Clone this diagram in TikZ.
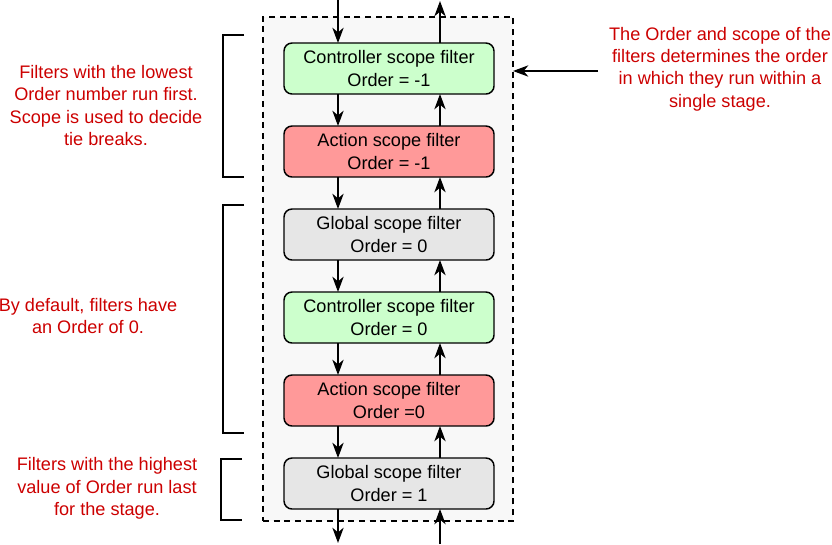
\documentclass[tikz,border=0pt]{standalone}
\usepackage{fontspec}
\setmainfont{Liberation Sans}
\usetikzlibrary{positioning, arrows.meta}

\definecolor{ctrlgreen}{HTML}{CCFFCC}
\definecolor{actionred}{HTML}{FF9999}
\definecolor{globalgray}{HTML}{E6E6E6}
\definecolor{stagebg}{HTML}{F8F8F8}
\definecolor{notered}{HTML}{CC0000}

\begin{document}
\begin{tikzpicture}[
			x = 0.75pt, y = -0.75pt,
			font = \fontsize{13.6}{16.8}\selectfont,
			filterbox/.style = {draw, line width = 1.1pt, rounded corners = 6pt, align = center,
				minimum width = 157.5pt, minimum height = 38.25pt, inner sep = 0pt, outer sep = 0pt},
			flow/.style = {line width = 1.1pt, -{Stealth[length = 11.5pt, width = 8.5pt, inset = 3.5pt]}},
			note/.style = {text = notered, align = center},
			bracket/.style = {line width = 1.1pt},
			node distance = 24pt]
			\useasboundingbox (0,0) rectangle (832,544);

			% the stage
			\node (stage) [draw, dashed, dash pattern = on 4.5pt off 3.5pt, line width = 1.1pt,
				fill = stagebg, minimum width = 187.5pt, minimum height = 378pt, outer sep = 0pt] at (388,269) {};

			% filters, first to last
			\node (ctrlA) [filterbox, fill = ctrlgreen] at (389,68.5) {Controller scope filter\\Order = -1};
			\node (actA) [filterbox, fill = actionred, below = of ctrlA] {Action scope filter\\Order = -1};
			\node (globA) [filterbox, fill = globalgray, below = of actA] {Global scope filter\\Order = 0};
			\node (ctrlB) [filterbox, fill = ctrlgreen, below = of globA] {Controller scope filter\\Order = 0};
			\node (actB) [filterbox, fill = actionred, below = of ctrlB] {Action scope filter\\Order =0};
			\node (globB) [filterbox, fill = globalgray, below = of actB] {Global scope filter\\Order = 1};

			% lanes
			\coordinate (downlane) at (338,0);
			\coordinate (uplane) at (440,0);
			\coordinate (inTop) at (338,0);
			\coordinate (outTop) at (440,1);
			\coordinate (outBottom) at (338,543);
			\coordinate (inBottom) at (440,544);

			\draw[flow] (inTop) -- (ctrlA.north -| downlane);
			\draw[flow] (ctrlA.north -| uplane) -- (outTop);
			\foreach \a/\b in {ctrlA/actA, actA/globA, globA/ctrlB, ctrlB/actB, actB/globB} {
				\draw[flow] (\a.south -| downlane) -- (\b.north -| downlane);
				\draw[flow] (\b.north -| uplane) -- (\a.south -| uplane);
			}
			\draw[flow] (globB.south -| downlane) -- (outBottom);
			\draw[flow] (inBottom) -- (globB.south -| uplane);

			% notes
			\node (noteLow) [note] at (106,105.5) {Filters with the lowest\\Order number run first.\\Scope is used to decide\\tie breaks.};
			\node (noteDefault) [note] at (88,316) {By default, filters have\\an Order of 0.};
			\node (noteHigh) [note] at (107,488.5) {Filters with the highest\\value of Order run last\\for the stage.};
			\node (noteOrder) [note] at (720,69) {The Order and scope of the\\filters determines the order\\in which they run within a\\single stage.};

			\coordinate (noteTail) at (598,71);
			\draw[flow] (noteTail) -- (stage.east |- noteTail);

			% brackets
			\draw[bracket] (244,35) -| (223,177) -- (244,177);
			\draw[bracket] (244,205) -| (223,433) -- (244,433);
			\draw[bracket] (242,459) -| (221,520) -- (242,520);
		\end{tikzpicture}
\end{document}
